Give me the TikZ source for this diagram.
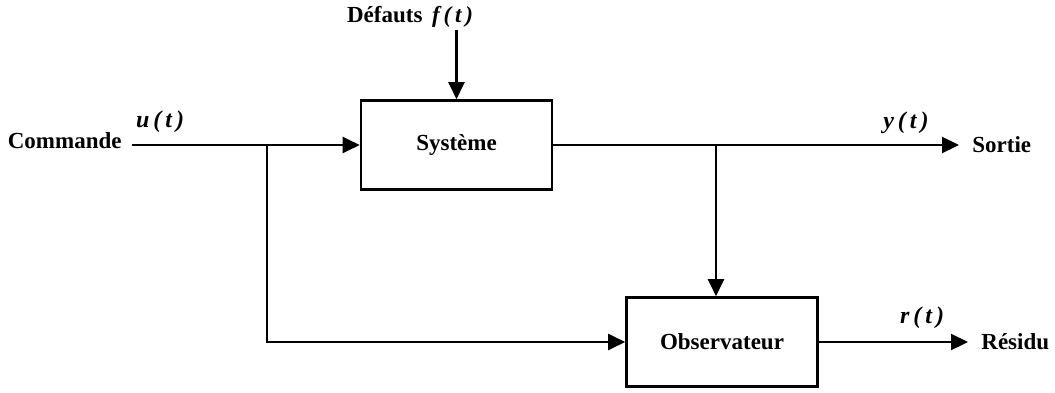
\documentclass[tikz,border=0pt]{standalone}
\usepackage{fontspec}
\setmainfont{Liberation Serif}
\usetikzlibrary{arrows.meta}
\begin{document}
\begin{tikzpicture}[x=0.5pt,y=-0.5pt,
  blockbox/.style={draw,line width=1.3pt,minimum width=95.5pt,minimum height=44.5pt,inner sep=0pt,font=\bfseries\fontsize{11.5}{13}\selectfont},
  lbl/.style={font=\bfseries\fontsize{11.5}{13}\selectfont,inner sep=1pt},
  sig/.style={font=\bfseries\itshape\fontsize{12}{14}\selectfont,inner sep=1pt},
  wire/.style={line width=1.1pt,-{Triangle[length=8.5pt,width=8pt]}},
  gap/.style={shorten >=5.5pt}]
\useasboundingbox (0,0) rectangle (1055,392);
\node[blockbox] (sys) at (456.5,145) {Système};
\node[blockbox] (obs) at (722,342) {Observateur};
\node[lbl,anchor=east] (cmd) at (124,141) {Commande};
\node[sig] (u) at (160,122) {u\,(\,t\,)};
\node[lbl] (def) at (410,17) {Défauts\, \textit{f\,(\,t\,)}};
\node[lbl,anchor=west] (sortie) at (970,145) {Sortie};
\node[sig] (y) at (906,123) {y\,(\,t\,)};
\node[lbl,anchor=west] (res) at (979,342) {Résidu};
\node[sig] (r) at (922,318) {r\,(\,t\,)};
\coordinate (cin) at (132,145);
\coordinate (fin) at (456.5,30);
\coordinate (br) at (267,145);
\coordinate (tap) at (716,145);
\draw[wire] (cin) -- (sys.west);
\draw[wire] (fin) -- (sys.north);
\draw[wire,gap] (sys.east) -- (sortie.west);
\draw[wire] (tap) -- (tap |- obs.north);
\draw[wire] (br) |- (obs.west);
\draw[wire,gap] (obs.east) -- (res.west);
\end{tikzpicture}
\end{document}
